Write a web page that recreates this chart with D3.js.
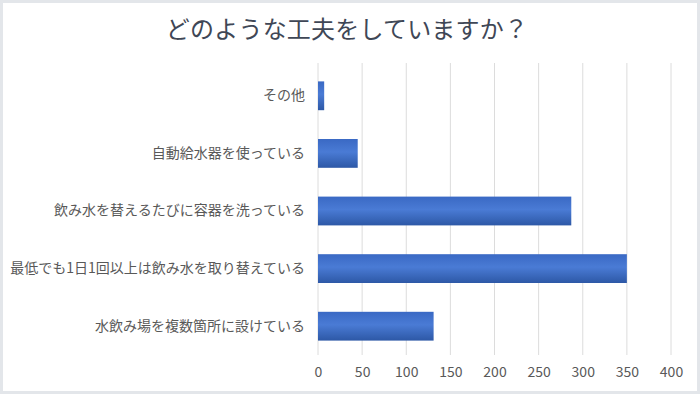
<!DOCTYPE html>
<html>
<head>
<meta charset="utf-8">
<script src="https://cdn.jsdelivr.net/npm/d3@7"></script>
<style>
  body { margin: 0; background: #fff; }
  text { font-family: "Noto Sans CJK JP", "Noto Sans", sans-serif; }
</style>
</head>
<body>
<div class="chart"></div>
<script>
const TITLE = 'どのような工夫をしていますか？';
const CATEGORIES = [
  'その他',
  '自動給水器を使っている',
  '飲み水を替えるたびに容器を洗っている',
  '最低でも1日1回以上は飲み水を取り替えている',
  '水飲み場を複数箇所に設けている'
];
const VALUES = [7, 45, 287, 350, 131];
const X_TICKS = [0, 50, 100, 150, 200, 250, 300, 350, 400];

var width = 700, height = 394;

var svg = d3.select('.chart')
            .append('svg')
            .attr('width', width)
            .attr('height', height);

// outer frame
svg.append('rect')
   .attr('x', 1.5).attr('y', 1.5)
   .attr('width', width - 3).attr('height', height - 3)
   .attr('fill', '#fff')
   .attr('stroke', '#e3e6ea')
   .attr('stroke-width', 3);

// bar gradient
var grad = svg.append('defs').append('linearGradient')
              .attr('id', 'barGrad')
              .attr('x1', 0).attr('y1', 0).attr('x2', 0).attr('y2', 1);
grad.append('stop').attr('offset', '0%').attr('stop-color', '#3a69c4');
grad.append('stop').attr('offset', '45%').attr('stop-color', '#4a7bd5');
grad.append('stop').attr('offset', '100%').attr('stop-color', '#2d58a6');

// title
svg.append('text')
   .attr('x', 347).attr('y', 38)
   .attr('text-anchor', 'middle')
   .style('font-size', '24px')
   .style('letter-spacing', '0.2px')
   .style('fill', '#3f4756')
   .text(TITLE);

// scales
var x = d3.scaleLinear()
          .domain([0, 400])
          .range([318, 671]);

var y = d3.scaleBand()
          .domain(CATEGORIES)
          .range([67, 355])
          .paddingInner(0.5)
          .paddingOuter(0.25);

// gridlines
svg.append('g')
   .selectAll('line')
   .data(X_TICKS)
   .enter()
   .append('line')
   .attr('x1', d => x(d)).attr('x2', d => x(d))
   .attr('y1', 63).attr('y2', 355)
   .attr('stroke', '#dcdcdc')
   .attr('stroke-width', 1);

// bars
svg.append('g')
   .selectAll('rect')
   .data(VALUES)
   .enter()
   .append('rect')
   .attr('x', x(0))
   .attr('y', (d, i) => y(CATEGORIES[i]))
   .attr('width', d => x(d) - x(0))
   .attr('height', y.bandwidth())
   .attr('fill', 'url(#barGrad)');

// x axis labels
var xAxis = svg.append('g')
   .attr('transform', 'translate(0,355)')
   .call(d3.axisBottom(x).tickValues(X_TICKS).tickSize(0).tickPadding(12));
xAxis.select('.domain').remove();
xAxis.selectAll('text')
     .style('font-size', '14px')
     .style('fill', '#595959')
     .style('font-family', '"Noto Sans CJK JP", sans-serif');

// category labels
var yAxis = svg.append('g')
   .attr('transform', 'translate(318,0)')
   .call(d3.axisLeft(y).tickSize(0).tickPadding(13));
yAxis.select('.domain').remove();
yAxis.selectAll('text')
     .style('font-size', '14px')
     .style('fill', '#595959')
     .style('font-family', '"Noto Sans CJK JP", sans-serif');
</script>
</body>
</html>
